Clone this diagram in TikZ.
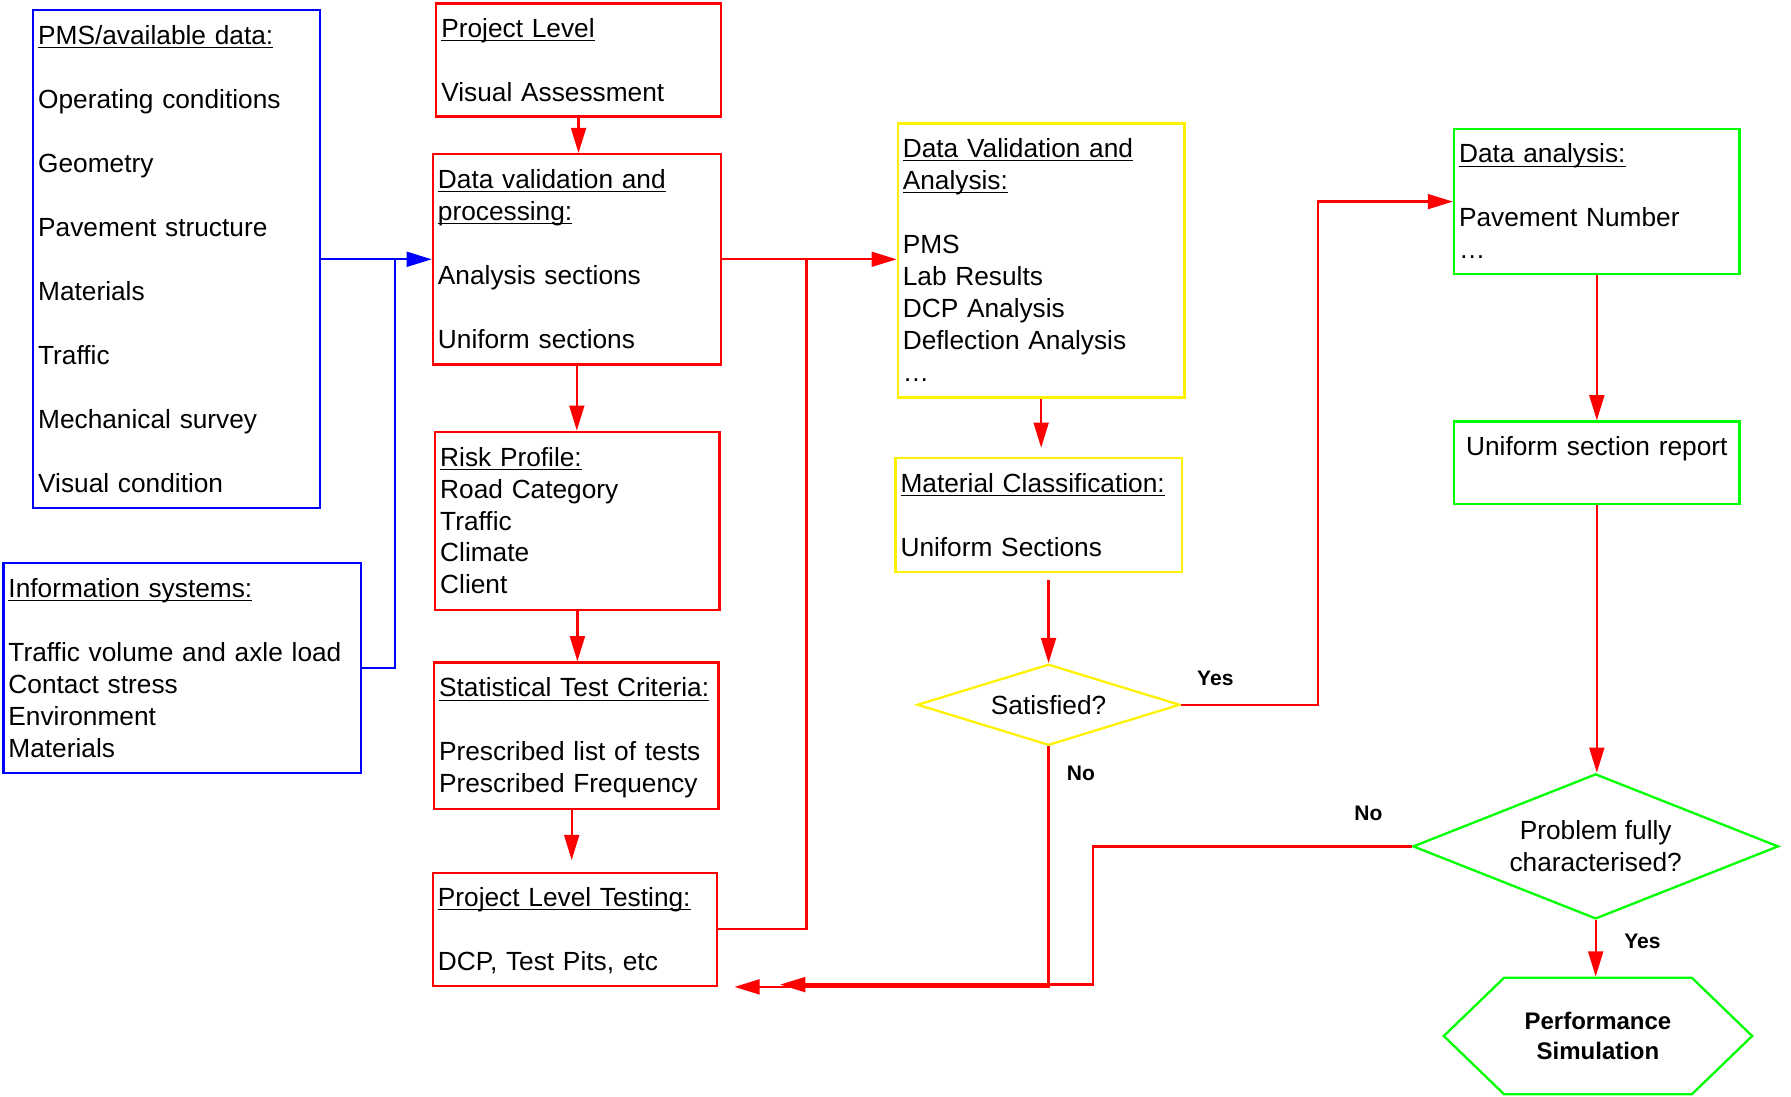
\documentclass[tikz,border=0pt]{standalone}
\usepackage{fontspec}
\setmainfont{Liberation Sans}
\usepackage{xcolor}
\usepackage{tikz}
\usetikzlibrary{arrows.meta,shapes.geometric,shapes.symbols,calc}

\newcommand{\hd}[1]{\underline{\smash{#1}}}
\newcommand{\gap}{\\[14pt]}
\newcommand{\fs}{\leavevmode\vrule height 10.4pt depth 2.4pt width 0pt}

\begin{document}
\begin{tikzpicture}[
  x=0.5pt, y=-0.5pt,
  every node/.style={font=\fontsize{11.5}{14}\selectfont},
  box/.style 2 args={draw, line width=1pt, anchor=north west, align=left,
    text width=#1, minimum height=#2, inner xsep=2.2pt, inner ysep=0pt,
    execute at begin node=\fs, execute at end node=\fs},
  decision/.style={diamond, draw, line width=1pt, inner sep=0pt, align=center},
  line/.style={draw=red, line width=1pt},
  link/.style={line, -{Triangle[length=11pt,width=6.5pt]}},
  lbl/.style={font=\bfseries\fontsize{9.2}{11}\selectfont, inner sep=0pt},
]
\useasboundingbox (0,0) rectangle (1568,960);

\node[box={121.1pt}{218pt}, draw=blue] (pms) at (28,8)
  {\hd{PMS/available data:}\gap Operating conditions\gap Geometry\gap
   Pavement structure\gap Materials\gap Traffic\gap Mechanical survey\gap
   Visual condition};
\node[box={152.1pt}{92pt}, draw=blue] (info) at (2,492)
  {\hd{Information systems:}\gap Traffic volume and axle load\\ Contact stress\\
   Environment\\ Materials};

\node[box={120.1pt}{49.5pt}, draw=red] (proj) at (381,2)
  {\hd{Project Level}\gap Visual Assessment};
\node[box={121.6pt}{92pt}, draw=red] (valid) at (378,134)
  {\hd{Data validation and}\\ \hd{processing:}\gap Analysis sections\gap
   Uniform sections};
\node[box={120.1pt}{78pt}, draw=red] (risk) at (380,377)
  {\hd{Risk Profile:}\\ Road Category\\ Traffic\\ Climate\\ Client};
\node[box={120.1pt}{64pt}, draw=red] (stats) at (379,579)
  {\hd{Statistical Test Criteria:}\gap Prescribed list of tests\\
   Prescribed Frequency};
\node[box={120.1pt}{49.5pt}, draw=red] (testing) at (378,763)
  {\hd{Project Level Testing:}\gap DCP, Test Pits, etc};

\node[box={121.1pt}{120pt}, draw=yellow] (analysis) at (785,107)
  {\hd{Data Validation and}\\ \hd{Analysis:}\gap PMS\\ Lab Results\\
   DCP Analysis\\ Deflection Analysis\\ …};
\node[box={121.1pt}{50pt}, draw=yellow] (matclass) at (783,400)
  {\hd{Material Classification:}\gap Uniform Sections};
\node[decision, draw=yellow, aspect=3.24, minimum width=115pt,
  minimum height=35.5pt] (satisfied) at (918,617) {Satisfied?};

\node[box={120.6pt}{63.5pt}, draw=green] (dataan) at (1272,112)
  {\hd{Data analysis:}\gap Pavement Number\\ …};
\node[box={120.6pt}{36pt}, draw=green, align=center] (report) at (1272,368)
  {Uniform section report\\};
\node[decision, draw=green, aspect=2.52, minimum width=160pt,
  minimum height=63.5pt] (problem) at (1397,741)
  {Problem fully\\ characterised?};
\node[signal, signal to=east and west, signal pointer angle=88, draw=green,
  line width=1pt, minimum width=135pt, minimum height=51pt, inner sep=0pt,
  align=center, font=\bfseries\fontsize{10.5}{13}\selectfont] (perf)
  at (1399,907) {Performance\\ Simulation};

\coordinate (bjoin) at (346,226);
\coordinate (rjoin) at (706,226);
\coordinate (tipa) at ($(testing.south east)+(14,0)$);
\coordinate (tipb) at ($(testing.south east)+(54,-2)$);

\draw[link, draw=blue] (pms.east) -- (valid.west);
\draw[line, draw=blue] (info.east) -| (bjoin);

\draw[link] (proj.south) -- (proj.south |- valid.north);
\draw[link] (valid.south) -- (valid.south |- risk.north);
\draw[link] (risk.south) -- (risk.south |- stats.north);
\draw[link] ($(stats.south)+(-4,0)$) -- ($(stats.south |- testing.north)+(-4,-10)$);
\draw[link] (valid.east) -- (valid.east -| analysis.west);
\draw[line] (testing.east) -| (rjoin);

\draw[link] (analysis.south) -- ($(analysis.south |- matclass.north)+(0,-8)$);
\draw[link] ($(satisfied.north |- matclass.south)+(0,6)$) -- (satisfied.north);
\draw[link] (satisfied.east) -- node[lbl, pos=0.25, above=8pt] (yes1) {Yes}
  ++(120,0) |- (dataan.west);
\draw[link] (satisfied.south) |- node[lbl, pos=0.057, right=7.5pt] (no1) {No} (tipa);

\draw[link] (dataan.south) -- (dataan.south |- report.north);
\draw[link] (report.south) -- (report.south |- problem.north);
\draw[link] (problem.west) -- node[lbl, pos=0.136, above=10.7pt] (no2) {No}
  ++(-279,0) |- (tipb);
\draw[link] (problem.south) -- node[lbl, pos=0.38, right=12pt] (yes2) {Yes}
  (problem.south |- perf.north);
\end{tikzpicture}
\end{document}
